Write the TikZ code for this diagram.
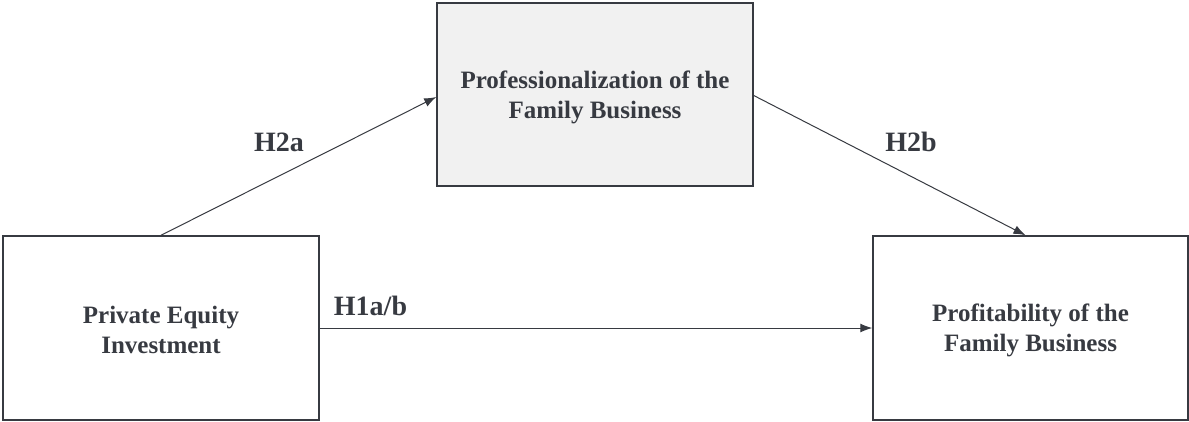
\documentclass[tikz,border=0pt]{standalone}
\usepackage{fontspec}
\setmainfont{Liberation Serif}
\usetikzlibrary{arrows.meta}
\definecolor{ink}{HTML}{373A41}
\definecolor{boxfill}{HTML}{F1F1F1}
\tikzset{
  box/.style={draw=ink, line width=1.5pt, inner sep=0pt},
  boxtext/.style={align=center, inner sep=0pt, text=ink, font=\fontsize{25}{30}\selectfont\bfseries},
  link/.style={draw=ink, line width=1pt, -{Latex[length=12pt,width=9pt]}},
  hyp/.style={text=ink, font=\fontsize{28}{32}\selectfont\bfseries, anchor=base, inner sep=0pt}
}
\begin{document}
\begin{tikzpicture}[x=1pt,y=-1pt]
\useasboundingbox (0,0) rectangle (1189,421);
\node[box, minimum width=316pt, minimum height=184pt] (L) at (161,328) {};
\node[box, fill=boxfill, minimum width=316pt, minimum height=183pt] (T) at (595,94.5) {};
\node[box, minimum width=315pt, minimum height=184pt] (R) at (1030.5,328) {};
\node[boxtext] (Lt) at ([yshift=-2pt]L.center) {Private Equity\\Investment};
\node[boxtext] (Tt) at ([yshift=-3pt]T.center) {Professionalization of the\\Family Business};
\node[boxtext] (Rt) at ([yshift=-2pt]R.center) {Profitability of the\\Family Business};
\draw[link] (L.north) -- ([yshift=-2.5pt]T.west);
\draw[link] ([yshift=-1pt]T.east) -- ([xshift=-5pt]R.north);
\draw[link] (L.east) -- (R.west);
\node[hyp] (h2a) at (279,151.7) {H2a};
\node[hyp] (h2b) at (911,151.7) {H2b};
\node[hyp] (h1) at (370.5,315) {H1a/b};
\end{tikzpicture}
\end{document}
